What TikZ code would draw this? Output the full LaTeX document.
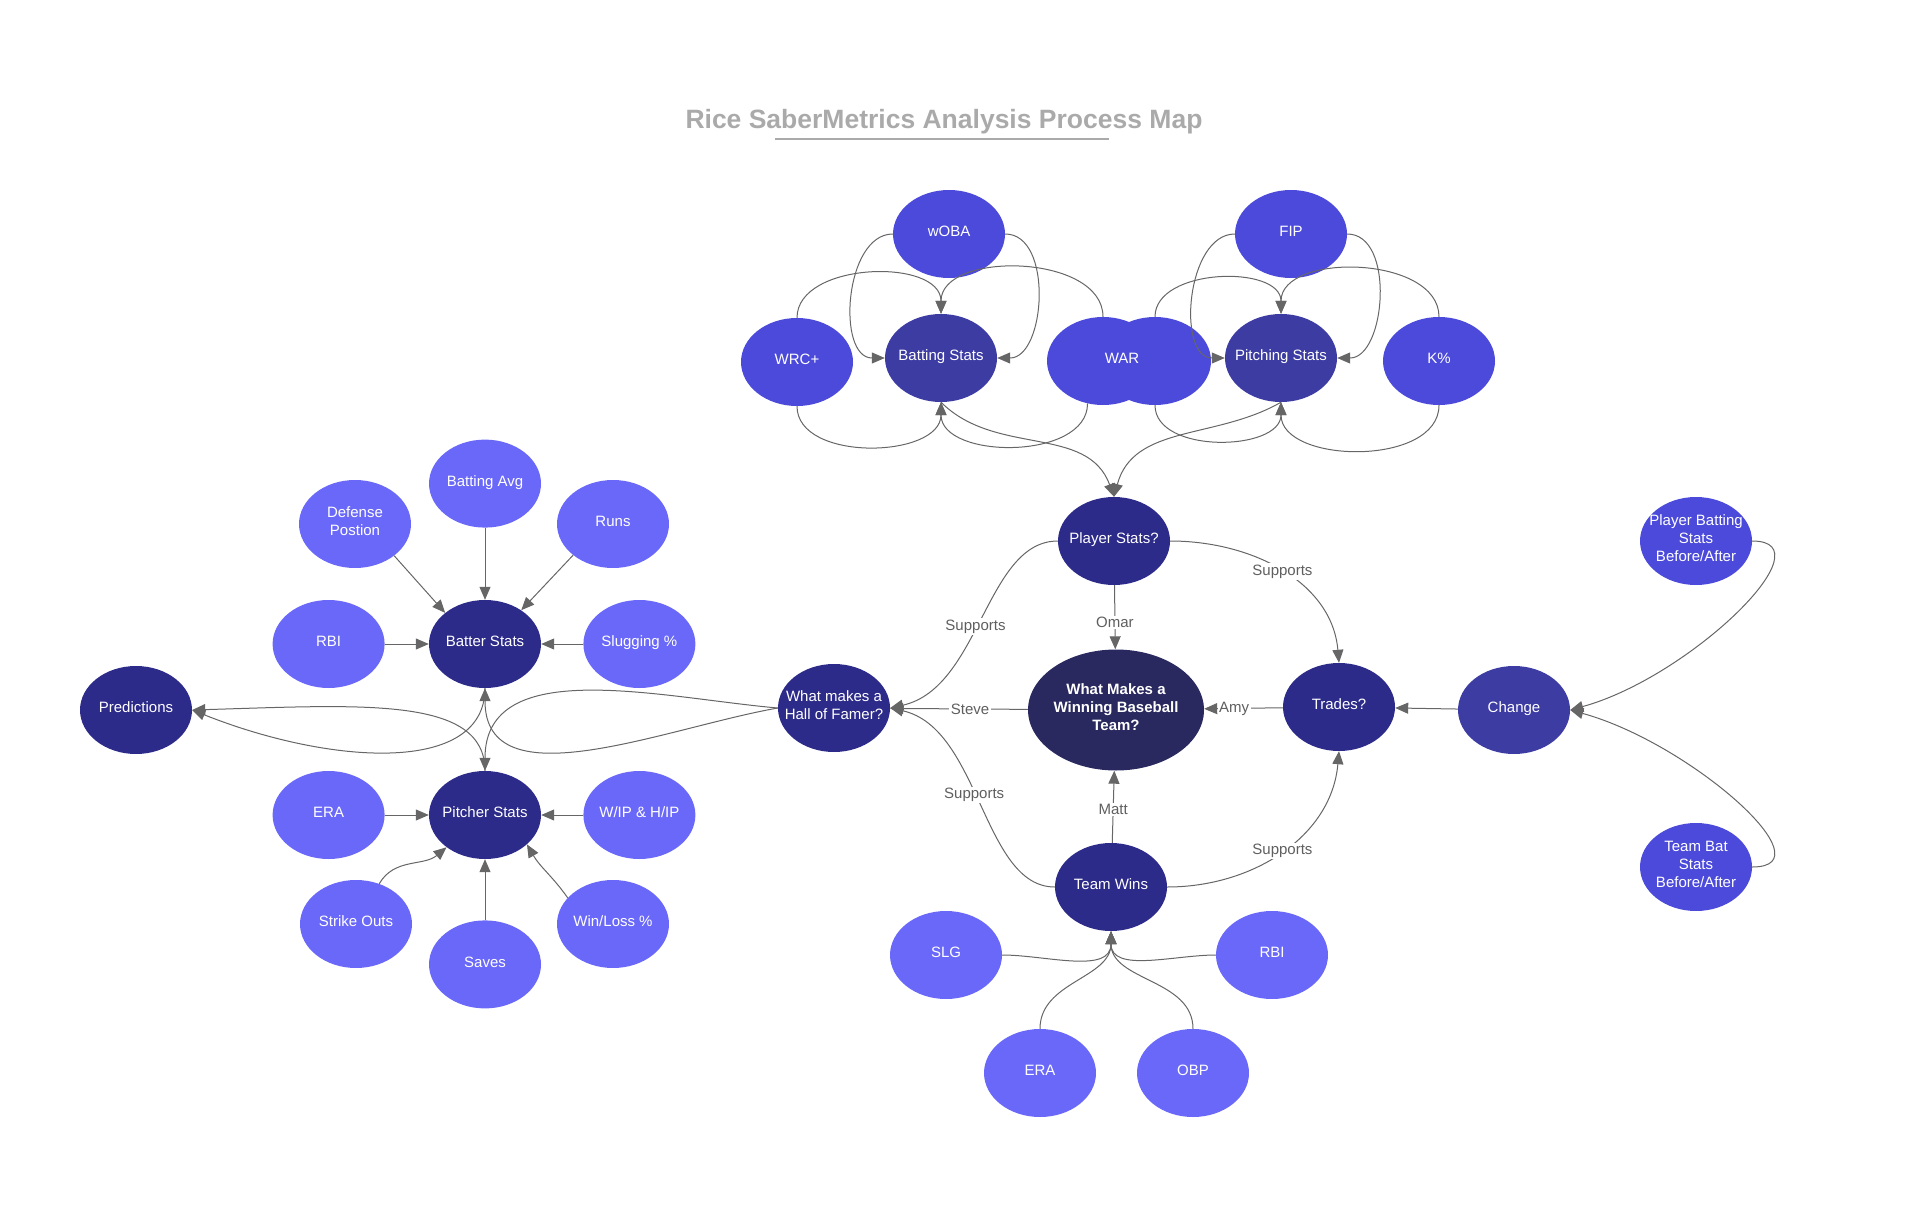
\documentclass[tikz,border=0pt]{standalone}
\usepackage{fontspec}
\setmainfont{Liberation Sans}
\usetikzlibrary{shapes.geometric, arrows.meta, positioning}

\definecolor{titlegray}{HTML}{AAAAAA}
\definecolor{wiregray}{HTML}{666666}
\definecolor{notegray}{HTML}{5F5F5F}
\definecolor{statlite}{HTML}{6A68F8}
\definecolor{statblue}{HTML}{4B4ADB}
\definecolor{groupblue}{HTML}{3D3CA3}
\definecolor{topicblue}{HTML}{2D2B89}
\definecolor{coreblue}{HTML}{29285F}

\begin{document}
\begin{tikzpicture}[x=1pt, y=-1pt,
    bubble/.style={ellipse, fill=#1, text=white, minimum width=112pt, minimum height=88pt,
      inner xsep=-12pt, inner ysep=0pt, text depth=5pt, align=center,
      font=\fontsize{15}{18}\selectfont},
    link/.style={draw=wiregray, line width=1pt, -{Triangle[width=11pt,length=13pt]}},
    note/.style={fill=white, text=notegray, inner sep=1.5pt, font=\fontsize{15}{18}\selectfont}]
  \useasboundingbox (0,0) rectangle (1920,1220);

  % title
  \node [font=\bfseries\fontsize{26.5}{30}\selectfont, text=titlegray] (title) at (944,121.5)
    {Rice SaberMetrics Analysis Process Map};
  \draw [titlegray, line width=2pt] (775,139.5) -- (1109,139.5);

  % centre of the map
  \node [bubble=coreblue, minimum width=176pt, minimum height=121pt,
    font=\bfseries\fontsize{15}{18}\selectfont] (goal) at (1116,710)
    {What Makes a\\ Winning Baseball\\ Team?};
  \node [bubble=topicblue] (plyr) at (1114,541) {Player Stats?};
  \node [bubble=topicblue] (trade) at (1339,707) {Trades?};
  \node [bubble=topicblue] (wins) at (1111,887) {Team Wins};
  \node [bubble=topicblue] (hof) at (834,708) {What makes a\\ Hall of Famer?};
  \node [bubble=groupblue] (change) at (1514,710) {Change};
  \node [bubble=statblue] (pbat) at (1696,541) {Player Batting\\ Stats\\ Before/After};
  \node [bubble=statblue] (tbat) at (1696,867) {Team Bat\\ Stats\\ Before/After};

  % team wins inputs
  \node [bubble=statlite] (slg) at (946,955) {SLG};
  \node [bubble=statlite] (rbiw) at (1272,955) {RBI};
  \node [bubble=statlite] (eraw) at (1040,1073) {ERA};
  \node [bubble=statlite] (obp) at (1193,1073) {OBP};

  % top: batting and pitching metrics
  \node [bubble=groupblue] (batg) at (941,358) {Batting Stats};
  \node [bubble=statblue] (woba) at (949,234) {wOBA};
  \node [bubble=statblue] (wrc) at (797,362) {WRC+};
  \node [bubble=statblue] (warp) at (1155,361) {};
  \node [bubble=statblue] (warb) at (1103,361) {};
  \node [text=white, text depth=5pt, font=\fontsize{15}{18}\selectfont] (wartext) at (1122,361) {WAR};
  \node [bubble=groupblue] (pitg) at (1281,358) {Pitching Stats};
  \node [bubble=statblue] (fip) at (1291,234) {FIP};
  \node [bubble=statblue] (kpct) at (1439,361) {K\%};

  % left: batter and pitcher stats
  \node [bubble=topicblue] (batr) at (485,644) {Batter Stats};
  \node [bubble=statlite, above=72pt of batr] (bavg) {Batting Avg};
  \node [bubble=statlite] (dpos) at (355,524) {Defense\\ Postion};
  \node [bubble=statlite] (runs) at (613,524) {Runs};
  \node [bubble=statlite, left=44pt of batr] (rbil) {RBI};
  \node [bubble=statlite, right=42pt of batr] (slug) {Slugging \%};
  \node [bubble=topicblue] (pitch) at (485,815) {Pitcher Stats};
  \node [bubble=statlite, left=44pt of pitch] (eral) {ERA};
  \node [bubble=statlite, right=42pt of pitch] (whip) {W/IP \& H/IP};
  \node [bubble=statlite] (sout) at (356,924) {Strike Outs};
  \node [bubble=statlite, below=61pt of pitch] (saves) {Saves};
  \node [bubble=statlite] (wloss) at (613,924) {Win/Loss \%};
  \node [bubble=topicblue] (pred) at (136,710) {Predictions};

  % top connectors
  \draw [link] (woba.west) to[out=180,in=180] (batg.west);
  \draw [link] (woba.east) to[out=0,in=0] (batg.east);
  \draw [link] (wrc.north) to[out=90,in=90] (batg.north);
  \draw [link] (wrc.south) to[out=-90,in=-90] (batg.south);
  \draw [link] (warb.north) to[out=90,in=90] (batg.north);
  \draw [link] (warb.250) to[out=-90,in=-90] (batg.south);
  \draw [link] (fip.west) to[out=180,in=180] (pitg.west);
  \draw [link] (fip.east) to[out=0,in=0] (pitg.east);
  \draw [link] (warp.north) to[out=90,in=90] (pitg.north);
  \draw [link] (warp.south) to[out=-90,in=-90] (pitg.south);
  \draw [link] (kpct.north) to[out=90,in=90] (pitg.north);
  \draw [link] (kpct.south) to[out=-90,in=-90] (pitg.south);
  \draw [link] (batg.south) to[out=-45,in=110] (plyr.north);
  \draw [link] (pitg.south) to[out=-150,in=75] (plyr.north);

  % middle connectors
  \draw [link] (plyr) -- node[note, pos=0.58] {Omar} (goal);
  \draw [link] (wins) -- node[note, pos=0.46] {Matt} (goal);
  \draw [link] (trade) -- node[note, pos=0.62] {Amy} (goal);
  \draw [link] (goal) -- node[note, pos=0.42] {Steve} (hof);
  \draw [link] (plyr.west) .. controls +(-72,0) and +(90,-20) .. node[note, pos=0.54] {Supports} (hof.east);
  \draw [link] (wins.west) .. controls +(-72,0) and +(90,20) .. node[note, pos=0.54] {Supports} (hof.east);
  \draw [link] (plyr.east) to[out=0,in=95] node[note] {Supports} (trade.north);
  \draw [link] (wins.east) to[out=0,in=-95] node[note] {Supports} (trade.south);
  \draw [link] (change) -- (trade);
  \draw [link] (pbat.east) .. controls +(78,0) and +(120,-33) .. (change.east);
  \draw [link] (tbat.east) .. controls +(78,0) and +(120,33) .. (change.east);

  % bottom connectors
  \draw [link] (slg.east) to[out=0,in=-90] (wins.south);
  \draw [link] (rbiw.west) to[out=180,in=-90] (wins.south);
  \draw [link] (eraw.north) to[out=90,in=-90] (wins.south);
  \draw [link] (obp.north) to[out=90,in=-90] (wins.south);

  % left connectors
  \draw [link] (bavg) -- (batr);
  \draw [link] (dpos.-39) -- (batr.142);
  \draw [link] (runs.-142) -- (batr.43);
  \draw [link] (rbil) -- (batr);
  \draw [link] (slug) -- (batr);
  \draw [link] (eral) -- (pitch);
  \draw [link] (whip) -- (pitch);
  \draw [link] (saves) -- (pitch);
  \draw [link] (sout) to[out=60,in=-140] (pitch);
  \draw [link] (wloss.150) to[out=125,in=-60] (pitch.-35);
  \draw [link] (hof.west) to[out=190,in=-90] (batr.south);
  \draw [link] (hof.west) to[out=175,in=90] (pitch.north);
  \draw [link] (batr.south) .. controls +(0,87) and +(138,55) .. (pred.east);
  \draw [link] (pitch.north) .. controls +(0,-75) and +(170,-5) .. (pred.east);
\end{tikzpicture}
\end{document}
